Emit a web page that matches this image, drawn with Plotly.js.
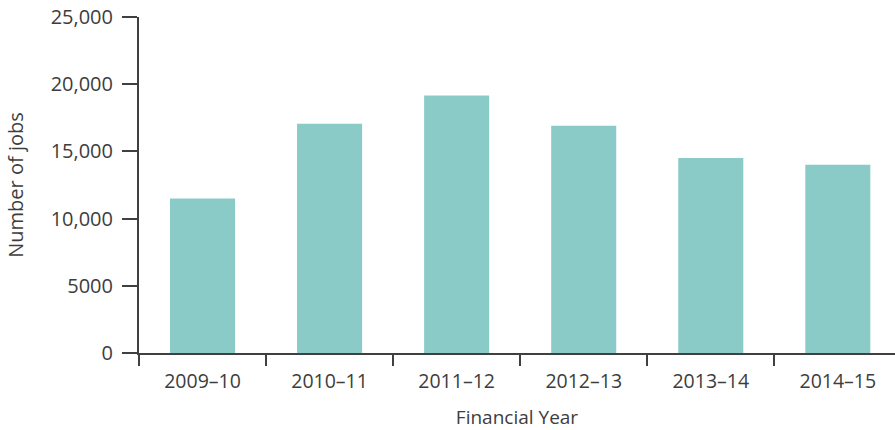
<!DOCTYPE html>
<html>
<head>
<meta charset="utf-8">
<script src="https://cdn.plot.ly/plotly-3.0.1.min.js"></script>
<style>html,body{margin:0;padding:0;background:#fff;}#chart{width:895px;height:430px;}</style>
</head>
<body>
<div id="chart"></div>
<script>
const years = ["2009–10", "2010–11", "2011–12", "2012–13", "2013–14", "2014–15"];
const jobs = [11500, 17050, 19150, 16900, 14500, 14000];
const yTickVals = [0, 5000, 10000, 15000, 20000, 25000];
const yTickText = ["0", "5000", "10,000", "15,000", "20,000", "25,000"];

const textColor = "#3d3d3d";
const axisColor = "#404040";
const font = "Open Sans, Noto Sans, sans-serif";

const trace = {
  type: "bar",
  x: years,
  y: jobs,
  marker: {color: "#8acbc8"},
  hoverinfo: "x+y"
};

const layout = {
  width: 895, height: 430,
  margin: {l: 139, r: 0, t: 17, b: 77, pad: 0},
  paper_bgcolor: "#fff", plot_bgcolor: "#fff",
  bargap: 0.488,
  showlegend: false,
  font: {family: font, color: textColor},
  xaxis: {
    type: "category",
    range: [-0.5, 5.45],
    showline: true, linecolor: axisColor, linewidth: 2,
    ticks: "outside", tickson: "boundaries", ticklen: 11, tickwidth: 2, tickcolor: axisColor,
    ticklabelstandoff: 10,
    showgrid: false, zeroline: false,
    tickfont: {size: 19.5, color: textColor},
    title: {text: "Financial Year", font: {size: 19, color: textColor}, standoff: 18}
  },
  yaxis: {
    range: [0, 25000],
    tickvals: yTickVals, ticktext: yTickText,
    showline: true, linecolor: axisColor, linewidth: 2,
    ticks: "outside", ticklen: 15, tickwidth: 2, tickcolor: axisColor,
    ticklabelstandoff: 5,
    showgrid: false, zeroline: false,
    tickfont: {size: 20, color: textColor},
    title: {text: "Number of jobs", font: {size: 20, color: textColor}, standoff: 22}
  }
};

Plotly.newPlot("chart", [trace], layout, {displayModeBar: false, staticPlot: true});
</script>
</body>
</html>
